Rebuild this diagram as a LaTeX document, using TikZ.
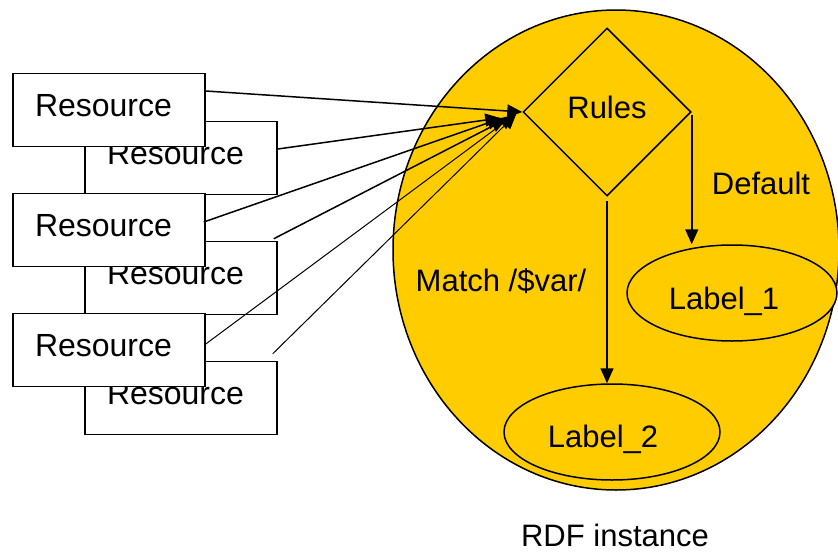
\documentclass[tikz,border=0pt]{standalone}
\usepackage{fontspec}
\setmainfont{Liberation Sans}
\usetikzlibrary{shapes.geometric,arrows.meta}
\definecolor{rdfyellow}{RGB}{255,204,0}
\tikzset{
  resbox/.style={draw, fill=white, line width=1.5pt, minimum height=73pt,
    inner xsep=22pt, inner ysep=0pt, text width=148pt, align=left,
    text height=22pt, text depth=10pt, font=\fontsize{32}{37}\selectfont},
  labelell/.style={draw, ellipse, fill=rdfyellow, line width=1.5pt, inner sep=0pt, minimum height=96pt},
}
\begin{document}
\begin{tikzpicture}[x=1pt, y=-1pt, font=\fontsize{31}{37}\selectfont,
    >={Triangle[length=15pt,width=13pt]}]
      \useasboundingbox (0,0) rectangle (838,552);
      \node[draw, ellipse, fill=rdfyellow, line width=1.5pt, inner sep=0pt,
        minimum width=446pt, minimum height=480pt] (inst) at (616,250) {};
      \node[draw, diamond, line width=1.5pt, inner sep=0pt, minimum width=168pt,
        minimum height=168pt] (rules) at (607,112) {};
      \node at (607,107) {Rules};
      \node[labelell, minimum width=210pt,
        label={[xshift=-8pt,yshift=-8pt]center:Label\_1}] (label1) at (732,293) {};
      \node[labelell, minimum width=216pt,
        label={[xshift=-9pt,yshift=-7pt]center:Label\_2}] (label2) at (612,432) {};
      \node (match) at (501,281) {Match /\$var/};
      \node (default) at (761,183) {Default};
      \node[anchor=base, inner sep=0pt] (rdf) at (615,546) {RDF instance};
      % resources
      \node[resbox] (r2) at (181,158) {Resource};
      \node[resbox] (r1) at (109,110) {Resource};
      \node[resbox] (r4) at (181,278) {Resource};
      \node[resbox] (r3) at (109,230) {Resource};
      \node[resbox] (r6) at (181,398) {Resource};
      \node[resbox] (r5) at (109,350) {Resource};
      \begin{scope}[->, line width=1.5pt]
        \draw ([yshift=19pt]r1.east) to (rules.west);
        \draw ([yshift=9pt]r2.east) to ([xshift=-22pt,yshift=-6pt]rules.west);
        \draw ([xshift=-2pt,yshift=8pt]r3.east) to ([xshift=-20pt,yshift=-6pt]rules.west);
        \draw ([xshift=-4pt,yshift=2pt]r4.north east) to ([xshift=-16pt,yshift=-7pt]rules.west);
        \draw[line width=1pt] ([yshift=6pt]r5.east) to ([xshift=-8pt,yshift=-3pt]rules.west);
        \draw[line width=1pt] ([xshift=-5pt,yshift=7pt]r6.north east) to ([xshift=-6pt,yshift=-2pt]rules.west);
        \draw ([yshift=-3pt]rules.east) to (rules.east |- label1.north);
        \draw ([yshift=-4pt]rules.south) to (rules.south |- label2.north);
      \end{scope}
\end{tikzpicture}
\end{document}
